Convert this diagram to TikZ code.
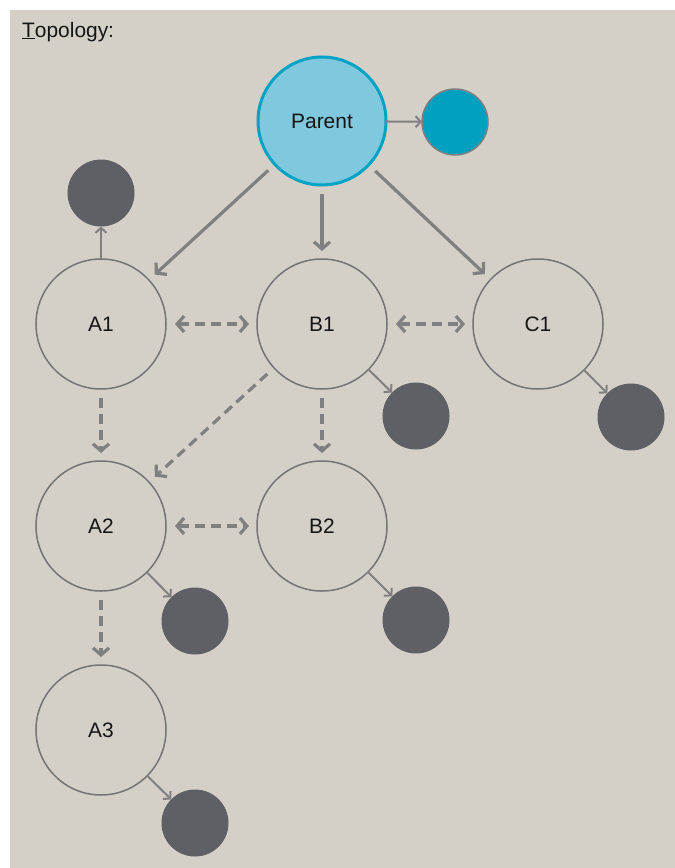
\documentclass[tikz,border=0pt]{standalone}
\usepackage{fontspec}
\setmainfont{Liberation Sans}
\usetikzlibrary{arrows.meta}
\definecolor{bg}{HTML}{D4D0C8}
\definecolor{pfill}{HTML}{7FC8DE}
\definecolor{pline}{HTML}{00A3C4}
\definecolor{tealc}{HTML}{00A0C0}
\definecolor{darkc}{HTML}{5F6066}
\definecolor{lgray}{HTML}{808080}
\definecolor{cgray}{HTML}{747474}
\definecolor{txt}{HTML}{151515}
\begin{document}
\begin{tikzpicture}[x=1bp,y=-1bp,
 font=\fontsize{21}{25}\selectfont,
 vnode/.style={circle,draw=cgray,line width=1.5bp,minimum size=130bp,inner sep=0pt,outer sep=0pt,text=txt},
 pnode/.style={circle,draw=pline,fill=pfill,line width=3bp,minimum size=128bp,inner sep=0pt,outer sep=0pt,text=txt},
 dotn/.style={circle,fill=darkc,minimum size=67bp,inner sep=0pt,outer sep=0pt},
 tdot/.style={circle,fill=tealc,draw=lgray,line width=1.5bp,minimum size=66bp,inner sep=0pt,outer sep=0pt},
 mainarr/.style={draw=lgray,line width=3.2bp,-{Straight Barb[length=7bp,width=16bp]},shorten >=8bp,shorten <=9bp},
 dsh/.style={mainarr,dash pattern=on 10bp off 6bp},
 dbl/.style={dsh,{Straight Barb[length=7bp,width=16bp]}-{Straight Barb[length=7bp,width=16bp]}},
 thinarr/.style={draw=lgray,line width=2bp,-{Straight Barb[length=5bp,width=11bp]}}]
\useasboundingbox (0,0) rectangle (675,868);
\fill[white] (0,0) rectangle (675,868);
\fill[bg] (10,10) rectangle (675,868);
\node[anchor=base west,text=txt,inner sep=0pt] (title) at (22,37) {\underline{T}opology:};

\node[pnode] (P) at (322,121) {Parent};
\node[tdot] (pd) at (455,122) {};

\node[vnode] (A1) at (101,324) {A1};
\node[vnode] (B1) at (322,324) {B1};
\node[vnode] (C1) at (538,324) {C1};
\node[vnode] (A2) at (101,526) {A2};
\node[vnode] (B2) at (322,526) {B2};
\node[vnode] (A3) at (101,730) {A3};

\node[dotn] (dA1) at (101,193) {};
\node[dotn] (dB1) at (416,416) {};
\node[dotn] (dC1) at (631,417) {};
\node[dotn] (dA2) at (195,621) {};
\node[dotn] (dB2) at (416,620) {};
\node[dotn] (dA3) at (195,823) {};

\draw[thinarr] (P) -- (pd);
\draw[thinarr] (A1) -- (dA1);
\draw[thinarr] (B1) -- (dB1);
\draw[thinarr] (C1) -- (dC1);
\draw[thinarr] (A2) -- (dA2);
\draw[thinarr] (B2) -- (dB2);
\draw[thinarr] (A3) -- (dA3);

\draw[mainarr] (P) -- (A1);
\draw[mainarr] (P) -- (B1);
\draw[mainarr] (P) -- (C1);

\draw[dbl] (A1) -- (B1);
\draw[dbl] (B1) -- (C1);
\draw[dbl] (A2) -- (B2);
\draw[dsh] (A1) -- (A2);
\draw[dsh] (B1) -- (B2);
\draw[dsh] (B1) -- (A2);
\draw[dsh] (A2) -- (A3);
\end{tikzpicture}
\end{document}
